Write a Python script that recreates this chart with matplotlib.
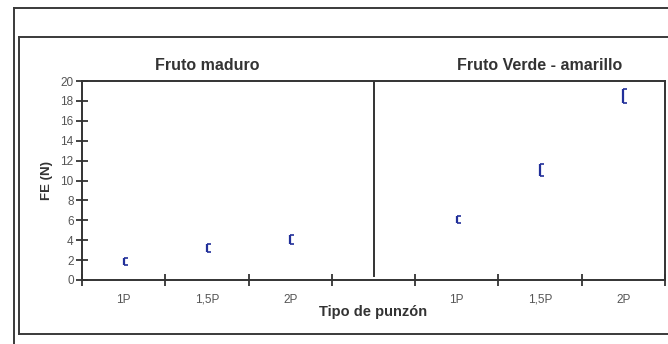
import matplotlib
matplotlib.use("Agg")
from matplotlib import pyplot as plt
from matplotlib.lines import Line2D
from matplotlib.path import Path

# categories on the x axis (blank slot separates the two fruit states)
categories = ["1P", "1,5P", "2P", "", "1P", "1,5P", "2P"]
maduro_pos = [0, 1, 2]
verde_pos = [4, 5, 6]
maduro_fe = [1.9, 3.2, 4.05]
maduro_err = [0.35, 0.4, 0.45]
verde_fe = [6.05, 11.05, 18.5]
verde_err = [0.35, 0.6, 0.72]
titles = ["Fruto maduro", "Fruto Verde - amarillo"]
y_ticks = list(range(0, 21, 2))


def main():
    plt.rcParams["font.family"] = ["Liberation Sans", "DejaVu Sans"]
    fig = plt.figure(figsize=(6.68, 3.44), dpi=100)
    W, H = 668.0, 344.0

    # outer and inner page frames
    frame = "#3a3a3a"
    fig.add_artist(Line2D([14 / W, 14 / W], [0, 1 - 8 / H], color=frame, lw=1.4))
    fig.add_artist(Line2D([14 / W, 1], [1 - 8 / H, 1 - 8 / H], color=frame, lw=1.4))
    fig.add_artist(Line2D([19 / W, 19 / W], [1 - 334 / H, 1 - 37 / H], color=frame, lw=1.4))
    fig.add_artist(Line2D([19 / W, 1], [1 - 37 / H, 1 - 37 / H], color=frame, lw=1.4))
    fig.add_artist(Line2D([19 / W, 1], [1 - 334 / H, 1 - 334 / H], color=frame, lw=1.4))

    ax = fig.add_axes([82 / W, 1 - 280 / H, (665 - 82) / W, (280 - 81) / H])
    ax.set_xlim(-0.5, len(categories) - 0.5)
    ax.set_ylim(0, 20)

    for side in ["left", "bottom", "top", "right"]:
        ax.spines[side].set_color("#333333")
        ax.spines[side].set_linewidth(1.4)

    ax.set_yticks(y_ticks)
    ax.set_yticklabels([str(v) for v in y_ticks])
    ax.set_xticks([i - 0.5 for i in range(len(categories) + 1)])
    ax.set_xticklabels([])
    ax.set_xticks(range(len(categories)), minor=True)
    ax.set_xticklabels(categories, minor=True)
    ax.tick_params(axis="both", which="major", direction="inout", length=8,
                   width=1.3, color="#333333", labelsize=8.5, labelcolor="#555555")
    ax.tick_params(axis="x", which="minor", length=0, pad=10,
                   labelsize=8.5, labelcolor="#555555")
    ax.tick_params(axis="y", pad=2)

    # divider between the two panels
    ax.axvline(3, ymin=0.02, ymax=1.0, color="#333333", lw=1.4)

    blue = "#22309a"
    cap = Path([(0, 0), (1, 0)], [Path.MOVETO, Path.LINETO])
    for xs, ys, es in [(maduro_pos, maduro_fe, maduro_err), (verde_pos, verde_fe, verde_err)]:
        ax.errorbar(xs, ys, yerr=es, fmt="none", ecolor=blue, elinewidth=1.6, capsize=0)
        ax.plot(xs, [y + e for y, e in zip(ys, es)], ls="none", marker=cap,
                markersize=6, mew=1.2, color=blue)
        ax.plot(xs, [y - e for y, e in zip(ys, es)], ls="none", marker=cap,
                markersize=6, mew=1.2, color=blue)

    ax.text(1, 21.6, titles[0], ha="center", va="center", fontsize=11.5,
            fontweight="bold", color="#333333")
    ax.text(5, 21.6, titles[1], ha="center", va="center", fontsize=11.5,
            fontweight="bold", color="#333333")

    ax.set_ylabel("FE (N)", fontsize=9.5, fontweight="bold", color="#333333", labelpad=5)
    ax.text(3, -3.2, "Tipo de punzón", ha="center", va="center", fontsize=10.5,
            fontweight="bold", color="#333333")

    fig.savefig("out.png", dpi=100)


if __name__ == "__main__":
    main()
